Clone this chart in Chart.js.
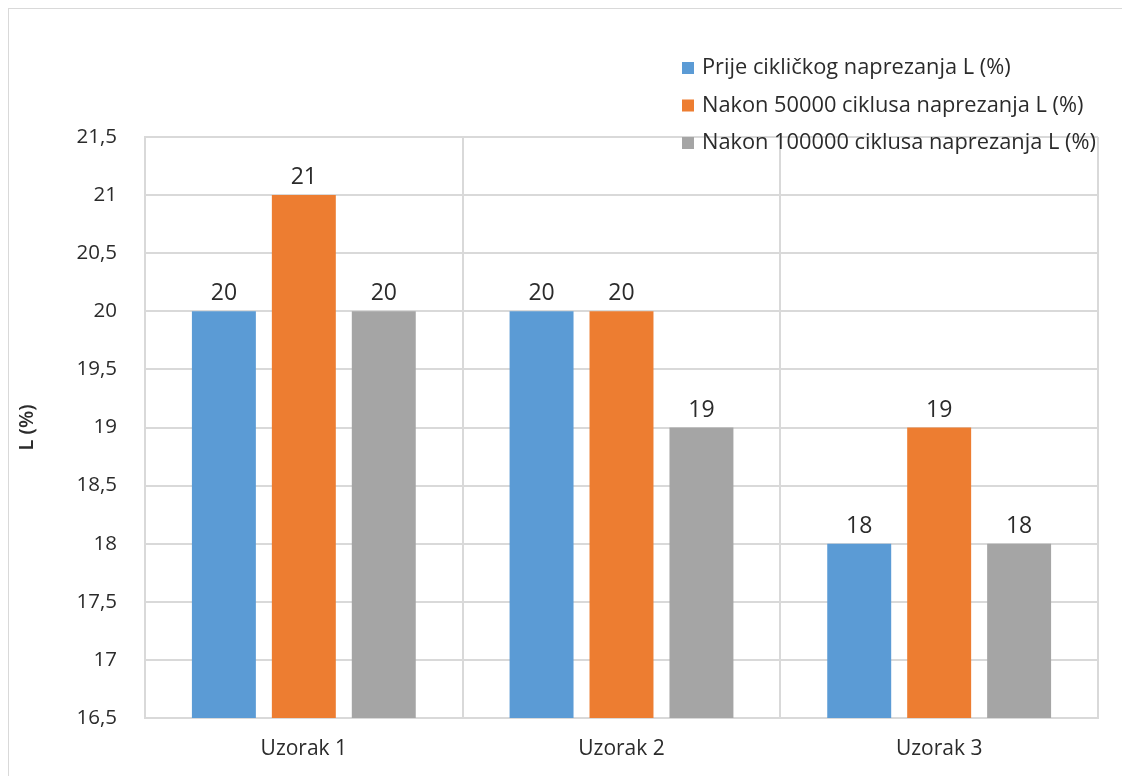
<!DOCTYPE html>
<html>
<head>
<meta charset="utf-8">
<script src="https://cdn.jsdelivr.net/npm/chart.js@4.4.1/dist/chart.umd.min.js"></script>
<style>
  html, body { margin: 0; padding: 0; background: #fff; }
  #wrap { position: relative; width: 1122px; height: 776px; }
  #frame { position: absolute; left: 8px; top: 8px; width: 1120px; height: 780px; border: 1px solid #d9d9d9; box-sizing: border-box; pointer-events: none; }
  canvas { position: absolute; left: 0; top: 0; }
</style>
</head>
<body>
<div id="wrap">
  <canvas id="chart" width="1122" height="776"></canvas>
  <div id="frame"></div>
</div>
<script>
// data
const categories = ['Uzorak 1', 'Uzorak 2', 'Uzorak 3'];
const seriesNames = [
    'Prije cikličkog naprezanja L (%)',
    'Nakon 50000 ciklusa naprezanja L (%)',
    'Nakon 100000 ciklusa naprezanja L (%)'
];
const beforeValues = [20, 20, 18];
const after50kValues = [21, 20, 19];
const after100kValues = [20, 19, 18];
const yTicks = [16.5, 17, 17.5, 18, 18.5, 19, 19.5, 20, 20.5, 21, 21.5];

const colors = ['#5b9bd5', '#ed7d31', '#a5a5a5'];
const FONT = '"Open Sans", sans-serif';
const TEXT = '#2b2b2b';
const fmt = v => String(v).replace('.', ',');

// value labels above each bar
const barLabels = {
    id: 'barLabels',
    afterDatasetsDraw(chart) {
        const ctx = chart.ctx;
        ctx.save();
        ctx.font = '23px ' + FONT;
        ctx.fillStyle = TEXT;
        ctx.textAlign = 'center';
        ctx.textBaseline = 'bottom';
        chart.data.datasets.forEach((ds, i) => {
            chart.getDatasetMeta(i).data.forEach((bar, j) => {
                ctx.fillText(fmt(ds.data[j]), bar.x, bar.y - 6);
            });
        });
        ctx.restore();
    }
};

// legend in the upper right, one entry per row
const sideLegend = {
    id: 'sideLegend',
    afterDraw(chart) {
        const ctx = chart.ctx;
        ctx.save();
        ctx.font = '21.8px ' + FONT;
        ctx.textBaseline = 'middle';
        chart.data.datasets.forEach((ds, i) => {
            const y = 68 + i * 37.5;
            ctx.fillStyle = ds.backgroundColor;
            ctx.fillRect(682, y - 6, 12, 12);
            ctx.fillStyle = TEXT;
            ctx.fillText(ds.label, 702, y);
        });
        ctx.restore();
    }
};

new Chart(document.getElementById('chart').getContext('2d'), {
    type: 'bar',
    data: {
        labels: categories,
        datasets: [
            { label: seriesNames[0], data: beforeValues, backgroundColor: colors[0] },
            { label: seriesNames[1], data: after50kValues, backgroundColor: colors[1] },
            { label: seriesNames[2], data: after100kValues, backgroundColor: colors[2] }
        ]
    },
    options: {
        responsive: false,
        animation: false,
        devicePixelRatio: 1,
        categoryPercentage: 0.755,
        barPercentage: 0.8,
        layout: { padding: { left: 10, top: 137, right: 24, bottom: 0 } },
        plugins: {
            legend: { display: false },
            tooltip: { enabled: false }
        },
        scales: {
            x: {
                grid: { color: '#d9d9d9', lineWidth: 2, drawTicks: false },
                border: { color: '#d9d9d9', width: 2 },
                ticks: { color: TEXT, font: { family: FONT, size: 21 }, padding: 18 },
                afterFit(scale) { scale.height = 58; }
            },
            y: {
                min: 16.5,
                max: 21.5,
                afterBuildTicks(scale) { scale.ticks = yTicks.map(v => ({ value: v })); },
                grid: { color: '#d9d9d9', lineWidth: 2, drawTicks: false },
                border: { color: '#d9d9d9', width: 2 },
                ticks: {
                    color: TEXT,
                    font: { family: FONT, size: 20.5 },
                    padding: 28,
                    callback: v => fmt(v)
                },
                title: {
                    display: true,
                    text: 'L (%)',
                    color: TEXT,
                    font: { family: FONT, size: 20, weight: '600' },
                    padding: { top: 5, bottom: 0 }
                },
                afterFit(scale) { scale.width = 135; }
            }
        }
    },
    plugins: [barLabels, sideLegend]
});
</script>
</body>
</html>
